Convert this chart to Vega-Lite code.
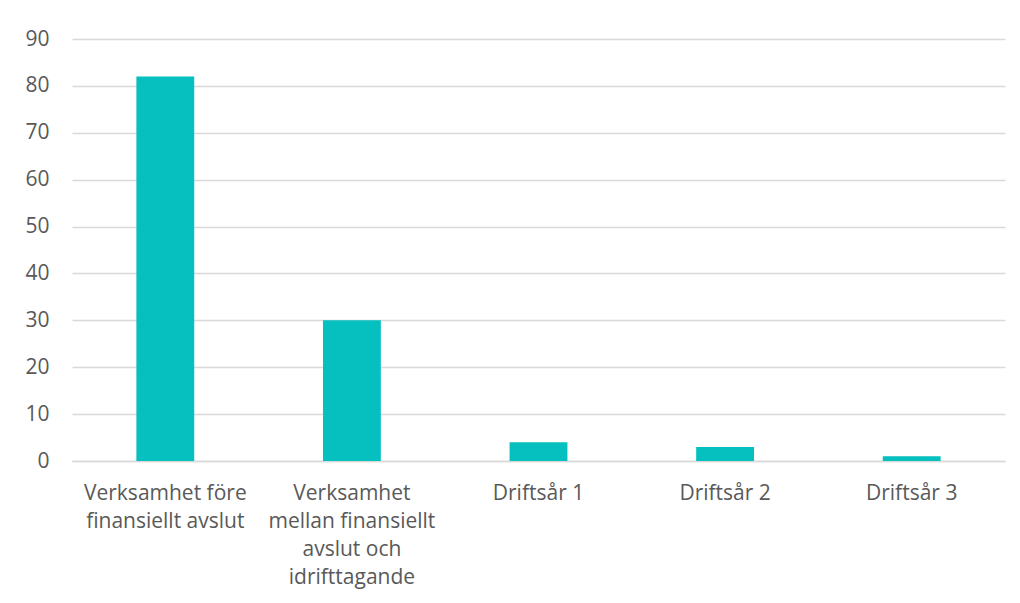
{
  "$schema": "https://vega.github.io/schema/vega-lite/v6.json",
  "width": 933,
  "height": 422,
  "autosize": "none",
  "padding": {"left": 72, "top": 39, "right": 15, "bottom": 142},
  "background": "white",
  "data": {
    "values": [
      {"kategori": "Verksamhet före|finansiellt avslut", "antal": 82},
      {"kategori": "Verksamhet|mellan finansiellt|avslut och|idrifttagande", "antal": 30},
      {"kategori": "Driftsår 1", "antal": 4},
      {"kategori": "Driftsår 2", "antal": 3},
      {"kategori": "Driftsår 3", "antal": 1}
    ]
  },
  "mark": {"type": "bar", "color": "#06BFBF"},
  "encoding": {
    "x": {
      "field": "kategori",
      "type": "nominal",
      "sort": null,
      "scale": {"paddingInner": 0.69, "paddingOuter": 0.345},
      "axis": {
        "title": null,
        "labelAngle": 0,
        "labelExpr": "split(datum.value, '|')",
        "labelFont": "Open Sans",
        "labelFontSize": 21,
        "labelColor": "#595959",
        "labelLineHeight": 28,
        "labelPadding": 21,
        "ticks": false,
        "domain": true,
        "domainColor": "#d9d9d9",
        "domainWidth": 1.5,
        "labelBaseline": "top"
      }
    },
    "y": {
      "field": "antal",
      "type": "quantitative",
      "scale": {"domain": [0, 90], "nice": false},
      "axis": {
        "title": null,
        "values": [0, 10, 20, 30, 40, 50, 60, 70, 80, 90],
        "labelFont": "Open Sans",
        "labelFontSize": 21,
        "labelColor": "#595959",
        "labelPadding": 23,
        "ticks": false,
        "domain": false,
        "gridColor": "#d9d9d9",
        "gridWidth": 1.5
      }
    }
  },
  "config": {"view": {"stroke": null}}
}
